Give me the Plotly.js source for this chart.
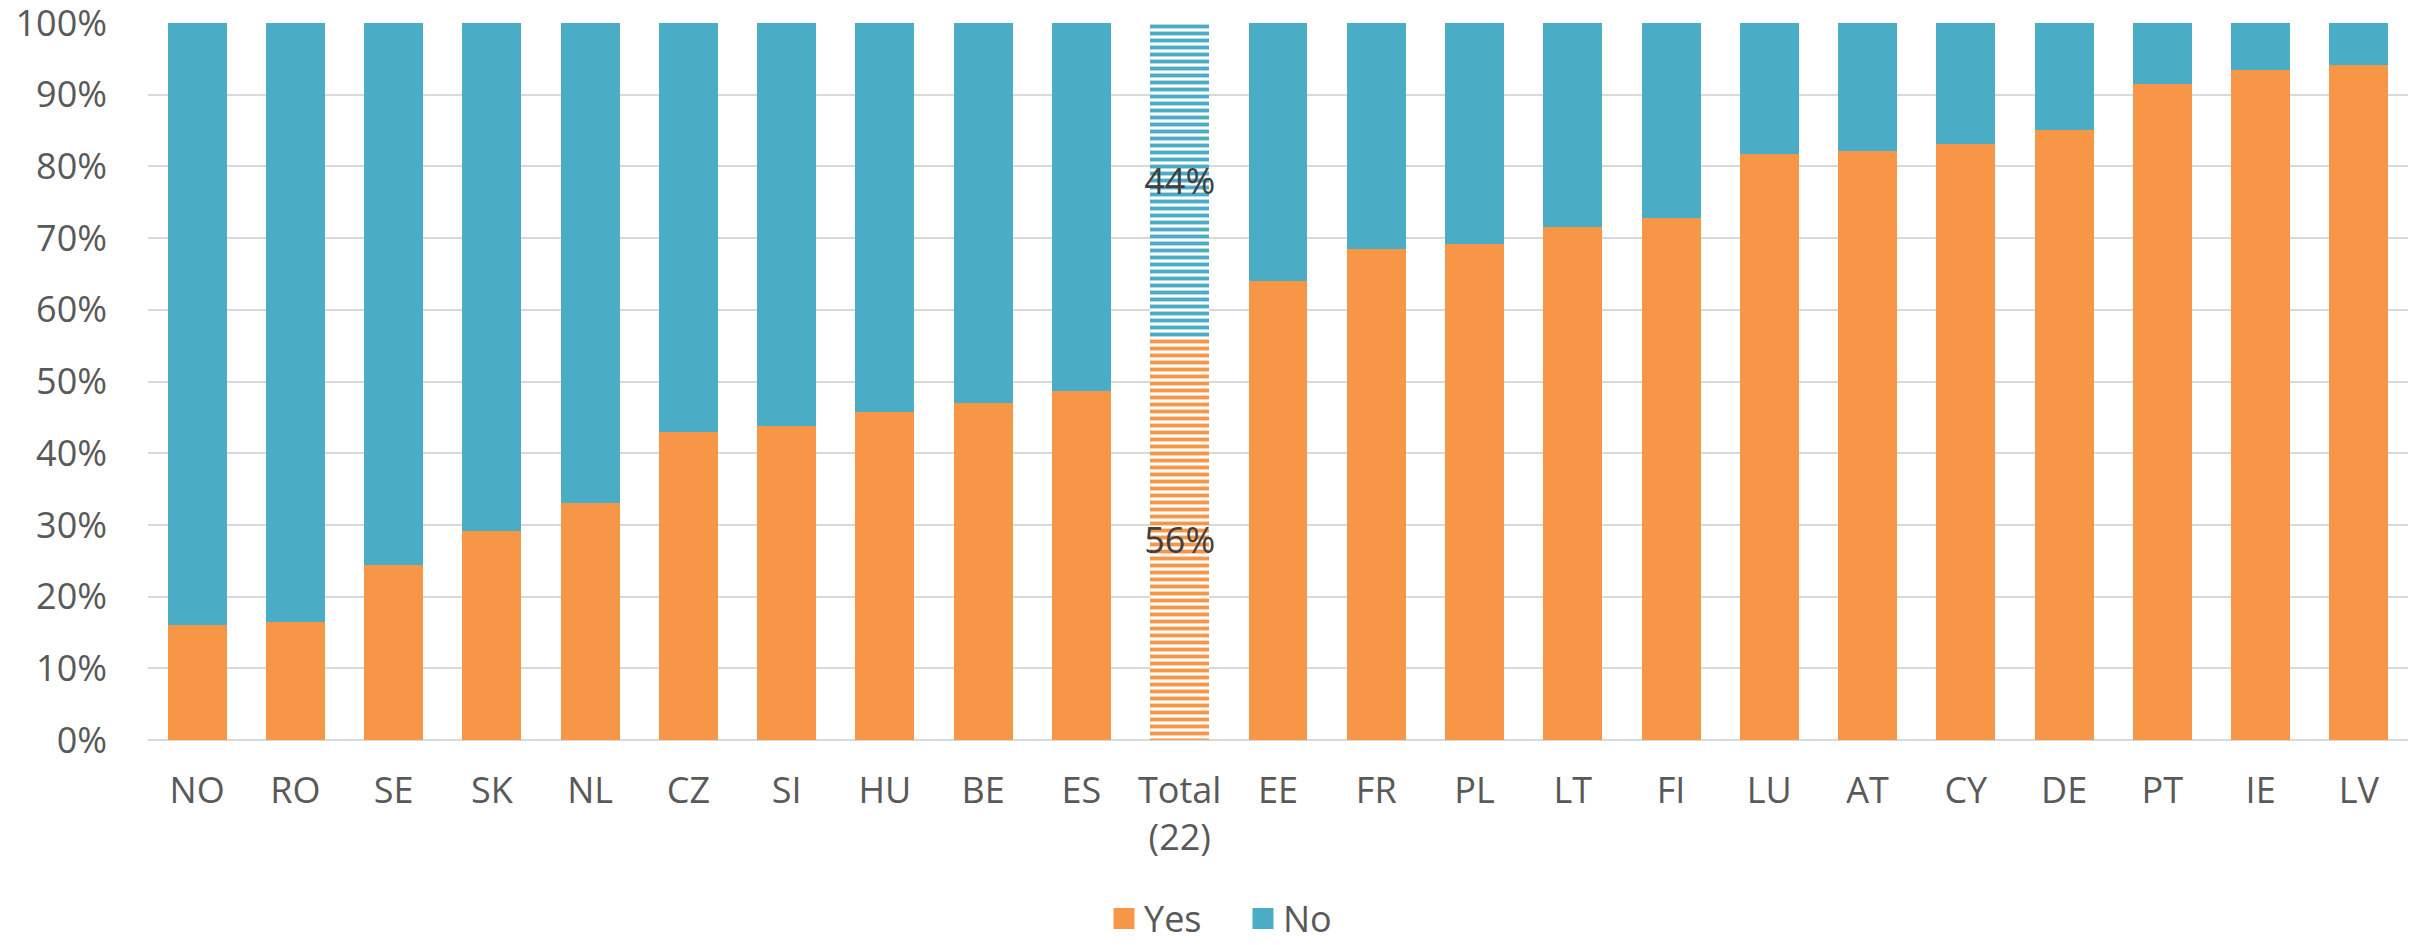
<!DOCTYPE html>
<html>
<head>
<meta charset="utf-8">
<script src="https://cdn.plot.ly/plotly-3.0.1.min.js"></script>
<style>html,body{margin:0;padding:0;background:#fff;}#chart{width:2423px;height:945px;}</style>
</head>
<body>
<div id="chart"></div>
<script>
const categories = ['NO','RO','SE','SK','NL','CZ','SI','HU','BE','ES','Total<br>(22)','EE','FR','PL','LT','FI','LU','AT','CY','DE','PT','IE','LV'];
const yesValues = [16.0,16.4,24.4,29.1,33.0,43.0,43.8,45.7,47.0,48.7,56.0,64.0,68.5,69.2,71.6,72.8,81.7,82.1,83.1,85.1,91.5,93.4,94.1];
const noValues  = [84.0,83.6,75.6,70.9,67.0,57.0,56.2,54.3,53.0,51.3,44.0,36.0,31.5,30.8,28.4,27.2,18.3,17.9,16.9,14.9,8.5,6.6,5.9];
const totalLabel = 'Total<br>(22)';
const seriesNames = ['Yes','No'];

const ORANGE = '#F79646', BLUE = '#4BACC6';
const isTotal = categories.map(c => c === totalLabel);
const patShape = isTotal.map(t => t ? '-' : '');
const labelsFor = vals => vals.map((v,i) => isTotal[i] ? Math.round(v) + '%' : '');

function barTrace(name, vals, color) {
  return {
    type: 'bar', name: name, x: categories, y: vals, showlegend: false,
    marker: { color: color, line: {width: 0},
      pattern: { shape: patShape, fgcolor: color, bgcolor: '#ffffff', size: 7, solidity: 0.55, fillmode: 'replace' } },
    text: labelsFor(vals), textposition: 'inside', insidetextanchor: 'middle',
    textangle: 0, constraintext: 'none',
    textfont: { family: 'Open Sans', size: 36, color: '#404040' },
    hoverinfo: 'skip'
  };
}
function legendTrace(name, color) {
  return { type: 'scatter', mode: 'markers', name: name, x: [null], y: [null],
    marker: { symbol: 'square', size: 16, color: color, line: {color: color, width: 5} },
    showlegend: true, hoverinfo: 'skip' };
}

const data = [
  barTrace(seriesNames[0], yesValues, ORANGE),
  barTrace(seriesNames[1], noValues, BLUE),
  legendTrace(seriesNames[0], ORANGE),
  legendTrace(seriesNames[1], BLUE)
];

const layout = {
  width: 2423, height: 945,
  margin: { l: 148, r: 15, t: 23, b: 205, autoexpand: false },
  paper_bgcolor: '#ffffff', plot_bgcolor: '#ffffff',
  barmode: 'stack', bargap: 0.4,
  font: { family: 'Open Sans', size: 36, color: '#595959' },
  showlegend: true,
  legend: { orientation: 'h', xref: 'container', x: 0.513, xanchor: 'center', yref: 'container', y: 0.028, yanchor: 'middle',
    entrywidth: 94, entrywidthmode: 'pixels',
    font: { family: 'Open Sans', size: 36, color: '#595959' }, itemclick: false, traceorder: 'normal' },
  xaxis: { type: 'category', tickfont: { size: 36, color: '#595959' }, showgrid: false, automargin: false,
    showline: false, ticks: '', ticklabelstandoff: 26, fixedrange: true },
  yaxis: { range: [0, 100], tickvals: [0,10,20,30,40,50,60,70,80,90,100], ticktext: ['0%','10%','20%','30%','40%','50%','60%','70%','80%','90%','100%'],
    showgrid: true, gridcolor: '#D9D9D9', gridwidth: 2, automargin: false, ticklabeloverflow: 'allow',
    zeroline: true, zerolinecolor: '#D9D9D9', zerolinewidth: 2, showline: false, ticks: '',
    tickfont: { size: 36, color: '#595959' }, ticklabelstandoff: 40, fixedrange: true },
  hovermode: false
};

Plotly.newPlot('chart', data, layout, { staticPlot: true, displayModeBar: false });
</script>
</body>
</html>
